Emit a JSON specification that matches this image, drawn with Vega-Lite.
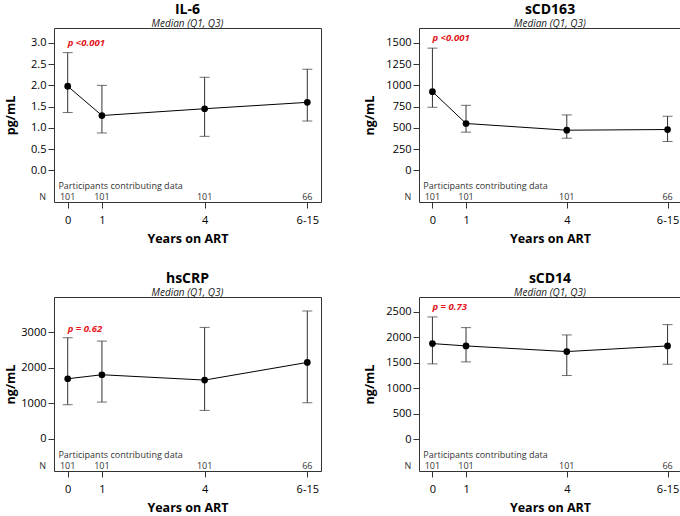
{
  "$schema": "https://vega.github.io/schema/vega-lite/v6.json",
  "padding": {"left": 4, "top": 2, "right": 0, "bottom": 0},
  "background": "white",
  "config": {
    "font": "Open Sans",
    "view": {"stroke": "#333", "strokeWidth": 1},
    "axis": {"grid": false, "domain": false, "tickColor": "#333", "tickSize": 6, "labelFontSize": 11, "labelColor": "#000", "titleFontSize": 12.5, "titleFontWeight": "bold", "titleColor": "#000", "labelOverlap": false, "tickCount": 20},
    "axisX": {"titlePadding": 7.5, "labelPadding": 6},
    "axisY": {"titlePadding": 9, "labelPadding": 2},
    "title": {"fontSize": 14, "fontWeight": "bold", "subtitleFontSize": 10, "subtitleFontStyle": "italic", "subtitleColor": "#222", "offset": -1, "subtitlePadding": 2, "anchor": "middle"},
    "text": {"font": "Open Sans"}
  },
  "spacing": 25,
  "vconcat": [
    {
      "spacing": 41,
      "hconcat": [
        {
          "width": 267, "height": 174,
          "title": {"text": "IL-6", "subtitle": "Median (Q1, Q3)"},
          "data": {"values": [
            {"year": 0, "median": 1.98, "q1": 1.36, "q3": 2.77, "n": 101},
            {"year": 1, "median": 1.29, "q1": 0.88, "q3": 2.0, "n": 101},
            {"year": 4, "median": 1.45, "q1": 0.8, "q3": 2.19, "n": 101},
            {"year": 7, "median": 1.6, "q1": 1.16, "q3": 2.38, "n": 66}
          ]},
          "layer": [
            {"mark": {"type": "errorbar", "ticks": {"size": 10, "color": "#333"}, "color": "#333"},
             "encoding": {
               "x": {"field": "year", "type": "quantitative", "scale": {"domain": [-0.4, 7.4], "nice": false, "zero": false}, "axis": {"values": [0, 1, 4, 7], "format": "d", "labelExpr": "datum.value == 7 ? '6-15' : datum.label", "title": "Years on ART"}},
               "y": {"field": "q1", "type": "quantitative", "scale": {"domain": [-0.745, 3.35], "nice": false, "zero": false}, "axis": {"values": [0, 0.5, 1, 1.5, 2, 2.5, 3], "format": ".1f", "title": "pg/mL", "titlePadding": 13}}, "y2": {"field": "q3"}}},
            {"mark": {"type": "line", "color": "#000", "strokeWidth": 1}, "encoding": {"x": {"field": "year", "type": "quantitative"}, "y": {"field": "median", "type": "quantitative"}}},
            {"mark": {"type": "point", "filled": true, "color": "#000", "size": 45, "opacity": 1}, "encoding": {"x": {"field": "year", "type": "quantitative"}, "y": {"field": "median", "type": "quantitative"}}},
            {"mark": {"type": "text", "align": "center", "baseline": "middle", "fontSize": 9, "color": "#333"}, "encoding": {"x": {"field": "year", "type": "quantitative"}, "text": {"field": "n", "type": "quantitative"}, "y": {"datum": -0.627}}},
            {"data": {"values": [{"t": "Participants contributing data"}]}, "mark": {"type": "text", "align": "left", "baseline": "middle", "fontSize": 9, "color": "#333"}, "encoding": {"text": {"field": "t", "type": "nominal"}, "x": {"datum": -0.27}, "y": {"datum": -0.357}}},
            {"data": {"values": [{"t": "N"}]}, "mark": {"type": "text", "align": "center", "baseline": "middle", "fontSize": 9, "color": "#333"}, "encoding": {"text": {"field": "t", "type": "nominal"}, "x": {"datum": -0.73}, "y": {"datum": -0.627}}},
            {"data": {"values": [{"p": "p <0.001"}]}, "mark": {"type": "text", "align": "left", "baseline": "middle", "fontSize": 9.5, "fontWeight": "bold", "fontStyle": "italic", "color": "#e3151b"}, "encoding": {"text": {"field": "p", "type": "nominal"}, "x": {"datum": 0}, "y": {"datum": 3.0}}}
          ]
        },
        {
          "width": 262, "height": 174,
          "title": {"text": "sCD163", "subtitle": "Median (Q1, Q3)"},
          "data": {"values": [
            {"year": 0, "median": 927, "q1": 743, "q3": 1439, "n": 101},
            {"year": 1, "median": 552, "q1": 450, "q3": 766, "n": 101},
            {"year": 4, "median": 473, "q1": 379, "q3": 653, "n": 101},
            {"year": 7, "median": 481, "q1": 340, "q3": 637, "n": 66}
          ]},
          "layer": [
            {"mark": {"type": "errorbar", "ticks": {"size": 10, "color": "#333"}, "color": "#333"},
             "encoding": {
               "x": {"field": "year", "type": "quantitative", "scale": {"domain": [-0.4, 7.4], "nice": false, "zero": false}, "axis": {"values": [0, 1, 4, 7], "format": "d", "labelExpr": "datum.value == 7 ? '6-15' : datum.label", "title": "Years on ART"}},
               "y": {"field": "q1", "type": "quantitative", "scale": {"domain": [-372, 1676], "nice": false, "zero": false}, "axis": {"values": [0, 250, 500, 750, 1000, 1250, 1500], "format": "d", "title": "ng/mL"}}, "y2": {"field": "q3"}}},
            {"mark": {"type": "line", "color": "#000", "strokeWidth": 1}, "encoding": {"x": {"field": "year", "type": "quantitative"}, "y": {"field": "median", "type": "quantitative"}}},
            {"mark": {"type": "point", "filled": true, "color": "#000", "size": 45, "opacity": 1}, "encoding": {"x": {"field": "year", "type": "quantitative"}, "y": {"field": "median", "type": "quantitative"}}},
            {"mark": {"type": "text", "align": "center", "baseline": "middle", "fontSize": 9, "color": "#333"}, "encoding": {"x": {"field": "year", "type": "quantitative"}, "text": {"field": "n", "type": "quantitative"}, "y": {"datum": -313}}},
            {"data": {"values": [{"t": "Participants contributing data"}]}, "mark": {"type": "text", "align": "left", "baseline": "middle", "fontSize": 9, "color": "#333"}, "encoding": {"text": {"field": "t", "type": "nominal"}, "x": {"datum": -0.27}, "y": {"datum": -178}}},
            {"data": {"values": [{"t": "N"}]}, "mark": {"type": "text", "align": "center", "baseline": "middle", "fontSize": 9, "color": "#333"}, "encoding": {"text": {"field": "t", "type": "nominal"}, "x": {"datum": -0.73}, "y": {"datum": -313}}},
            {"data": {"values": [{"p": "p <0.001"}]}, "mark": {"type": "text", "align": "left", "baseline": "middle", "fontSize": 9.5, "fontWeight": "bold", "fontStyle": "italic", "color": "#e3151b"}, "encoding": {"text": {"field": "p", "type": "nominal"}, "x": {"datum": 0}, "y": {"datum": 1559}}}
          ]
        }
      ]
    },
    {
      "spacing": 41,
      "hconcat": [
        {
          "width": 267, "height": 174,
          "title": {"text": "hsCRP", "subtitle": "Median (Q1, Q3)"},
          "data": {"values": [
            {"year": 0, "median": 1693, "q1": 960, "q3": 2850, "n": 101},
            {"year": 1, "median": 1806, "q1": 1035, "q3": 2756, "n": 101},
            {"year": 4, "median": 1656, "q1": 800, "q3": 3142, "n": 101},
            {"year": 7, "median": 2154, "q1": 1016, "q3": 3603, "n": 66}
          ]},
          "layer": [
            {"mark": {"type": "errorbar", "ticks": {"size": 10, "color": "#333"}, "color": "#333"},
             "encoding": {
               "x": {"field": "year", "type": "quantitative", "scale": {"domain": [-0.4, 7.4], "nice": false, "zero": false}, "axis": {"values": [0, 1, 4, 7], "format": "d", "labelExpr": "datum.value == 7 ? '6-15' : datum.label", "title": "Years on ART"}},
               "y": {"field": "q1", "type": "quantitative", "scale": {"domain": [-910, 4000], "nice": false, "zero": false}, "axis": {"values": [0, 1000, 2000, 3000], "format": "d", "title": "ng/mL", "titlePadding": 3}}, "y2": {"field": "q3"}}},
            {"mark": {"type": "line", "color": "#000", "strokeWidth": 1}, "encoding": {"x": {"field": "year", "type": "quantitative"}, "y": {"field": "median", "type": "quantitative"}}},
            {"mark": {"type": "point", "filled": true, "color": "#000", "size": 45, "opacity": 1}, "encoding": {"x": {"field": "year", "type": "quantitative"}, "y": {"field": "median", "type": "quantitative"}}},
            {"mark": {"type": "text", "align": "center", "baseline": "middle", "fontSize": 9, "color": "#333"}, "encoding": {"x": {"field": "year", "type": "quantitative"}, "text": {"field": "n", "type": "quantitative"}, "y": {"datum": -769}}},
            {"data": {"values": [{"t": "Participants contributing data"}]}, "mark": {"type": "text", "align": "left", "baseline": "middle", "fontSize": 9, "color": "#333"}, "encoding": {"text": {"field": "t", "type": "nominal"}, "x": {"datum": -0.27}, "y": {"datum": -445}}},
            {"data": {"values": [{"t": "N"}]}, "mark": {"type": "text", "align": "center", "baseline": "middle", "fontSize": 9, "color": "#333"}, "encoding": {"text": {"field": "t", "type": "nominal"}, "x": {"datum": -0.73}, "y": {"datum": -769}}},
            {"data": {"values": [{"p": "p = 0.62"}]}, "mark": {"type": "text", "align": "left", "baseline": "middle", "fontSize": 9.5, "fontWeight": "bold", "fontStyle": "italic", "color": "#e3151b"}, "encoding": {"text": {"field": "p", "type": "nominal"}, "x": {"datum": 0}, "y": {"datum": 3110}}}
          ]
        },
        {
          "width": 262, "height": 174,
          "title": {"text": "sCD14", "subtitle": "Median (Q1, Q3)"},
          "data": {"values": [
            {"year": 0, "median": 1878, "q1": 1479, "q3": 2402, "n": 101},
            {"year": 1, "median": 1832, "q1": 1518, "q3": 2192, "n": 101},
            {"year": 4, "median": 1721, "q1": 1250, "q3": 2048, "n": 101},
            {"year": 7, "median": 1832, "q1": 1472, "q3": 2251, "n": 66}
          ]},
          "layer": [
            {"mark": {"type": "errorbar", "ticks": {"size": 10, "color": "#333"}, "color": "#333"},
             "encoding": {
               "x": {"field": "year", "type": "quantitative", "scale": {"domain": [-0.4, 7.4], "nice": false, "zero": false}, "axis": {"values": [0, 1, 4, 7], "format": "d", "labelExpr": "datum.value == 7 ? '6-15' : datum.label", "title": "Years on ART"}},
               "y": {"field": "q1", "type": "quantitative", "scale": {"domain": [-627, 2794], "nice": false, "zero": false}, "axis": {"values": [0, 500, 1000, 1500, 2000, 2500], "format": "d", "title": "ng/mL"}}, "y2": {"field": "q3"}}},
            {"mark": {"type": "line", "color": "#000", "strokeWidth": 1}, "encoding": {"x": {"field": "year", "type": "quantitative"}, "y": {"field": "median", "type": "quantitative"}}},
            {"mark": {"type": "point", "filled": true, "color": "#000", "size": 45, "opacity": 1}, "encoding": {"x": {"field": "year", "type": "quantitative"}, "y": {"field": "median", "type": "quantitative"}}},
            {"mark": {"type": "text", "align": "center", "baseline": "middle", "fontSize": 9, "color": "#333"}, "encoding": {"x": {"field": "year", "type": "quantitative"}, "text": {"field": "n", "type": "quantitative"}, "y": {"datum": -529}}},
            {"data": {"values": [{"t": "Participants contributing data"}]}, "mark": {"type": "text", "align": "left", "baseline": "middle", "fontSize": 9, "color": "#333"}, "encoding": {"text": {"field": "t", "type": "nominal"}, "x": {"datum": -0.27}, "y": {"datum": -303}}},
            {"data": {"values": [{"t": "N"}]}, "mark": {"type": "text", "align": "center", "baseline": "middle", "fontSize": 9, "color": "#333"}, "encoding": {"text": {"field": "t", "type": "nominal"}, "x": {"datum": -0.73}, "y": {"datum": -529}}},
            {"data": {"values": [{"p": "p = 0.73"}]}, "mark": {"type": "text", "align": "left", "baseline": "middle", "fontSize": 9.5, "fontWeight": "bold", "fontStyle": "italic", "color": "#e3151b"}, "encoding": {"text": {"field": "p", "type": "nominal"}, "x": {"datum": 0}, "y": {"datum": 2598}}}
          ]
        }
      ]
    }
  ]
}
